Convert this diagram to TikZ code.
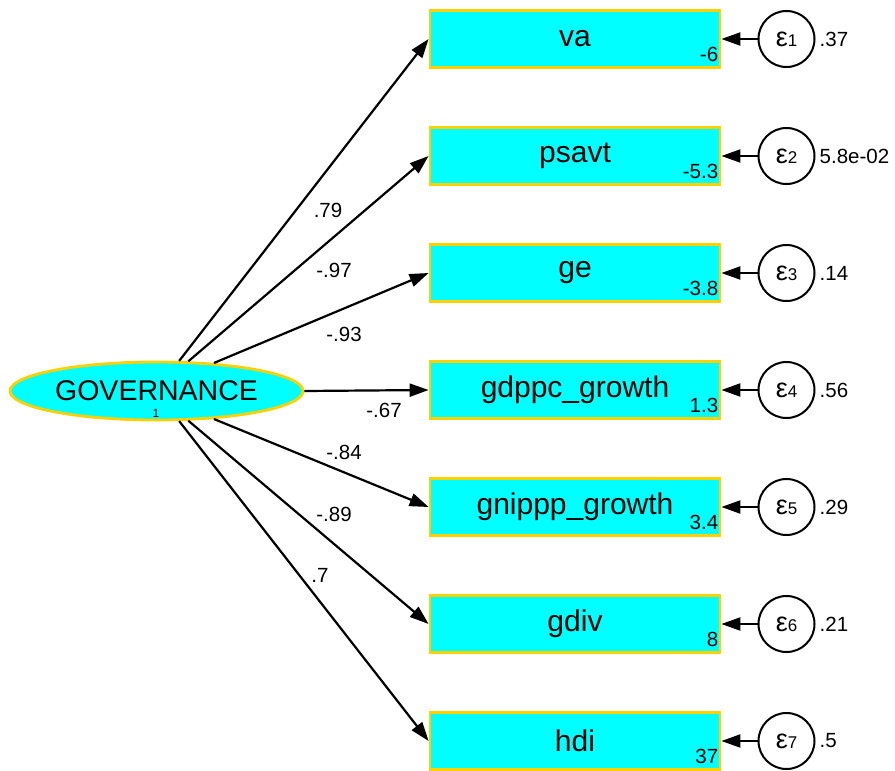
\documentclass[tikz,border=0pt]{standalone}
\usepackage{fontspec}
\setmainfont{Liberation Sans}
\usetikzlibrary{arrows.meta,shapes.geometric}
\definecolor{boxfill}{RGB}{0,255,255}
\definecolor{boxline}{RGB}{255,208,0}
\tikzset{
  obsbox/.style={draw=boxline,fill=boxfill,line width=2.8pt,minimum width=290pt,minimum height=57pt,inner sep=0pt,font=\fontsize{30}{32}\selectfont},
  latent/.style={ellipse,draw=boxline,fill=boxfill,line width=2.8pt,minimum width=293pt,minimum height=58pt,inner sep=0pt,font=\fontsize{28.5}{30}\selectfont},
  errc/.style={circle,draw=black,line width=2pt,minimum size=56pt,inner sep=0pt},
  small/.style={font=\fontsize{20.5}{22}\selectfont,inner sep=0pt},
  conn/.style={line width=2.2pt,-{Triangle[length=19pt,width=13pt]}},
}
\newcommand{\eps}[1]{{\fontsize{27}{28}\selectfont ε}{\fontsize{17}{18}\selectfont #1}}
\begin{document}
\begin{tikzpicture}[x=1pt,y=-1pt]
\useasboundingbox (0,0) rectangle (895,771);
\node[latent] (G) at (156.5,391) {GOVERNANCE};
\node[font=\fontsize{12}{12}\selectfont,inner sep=0pt] (G1) at (156,413) {1};
\foreach \nm/\txt/\y/\ic/\ev/\k in {va/va/39/-6/.37/1,psavt/psavt/156/-5.3/5.8e-02/2,ge/ge/273/-3.8/.14/3,gdppc/gdppc\_growth/390/1.3/.56/4,gnippp/gnippp\_growth/507/3.4/.29/5,gdiv/gdiv/624/8/.21/6,hdi/hdi/741/37/.5/7}{
  \node[obsbox] (\nm) at (575,\y) {\txt};
  \node[small,anchor=base east,xshift=-3pt,yshift=7pt] (\nm ic) at (\nm.south east) {\ic};
  \node[errc] (e\k) at (786.5,\y) {\eps{\k}};
  \node[small,anchor=west,xshift=4pt] (e\k v) at (e\k.east) {\ev};
  \draw[conn] (e\k) -- (\nm);
}
\draw[conn] (G.53) -- (va.west);
\draw[conn] (G.43) -- (psavt.west);
\draw[conn] (G.26) -- (ge.west);
\draw[conn] (G.east) -- (gdppc.west);
\draw[conn] (G.-26) -- (gnippp.west);
\draw[conn] (G.-43) -- (gdiv.west);
\draw[conn] (G.-53) -- (hdi.west);
\node[small] (l1) at (328,210) {.79};
\node[small] (l2) at (334,270) {-.97};
\node[small] (l3) at (344,334) {-.93};
\node[small] (l4) at (384,410) {-.67};
\node[small] (l5) at (344,452) {-.84};
\node[small] (l6) at (334,514) {-.89};
\node[small] (l7) at (320,575) {.7};
\end{tikzpicture}
\end{document}
